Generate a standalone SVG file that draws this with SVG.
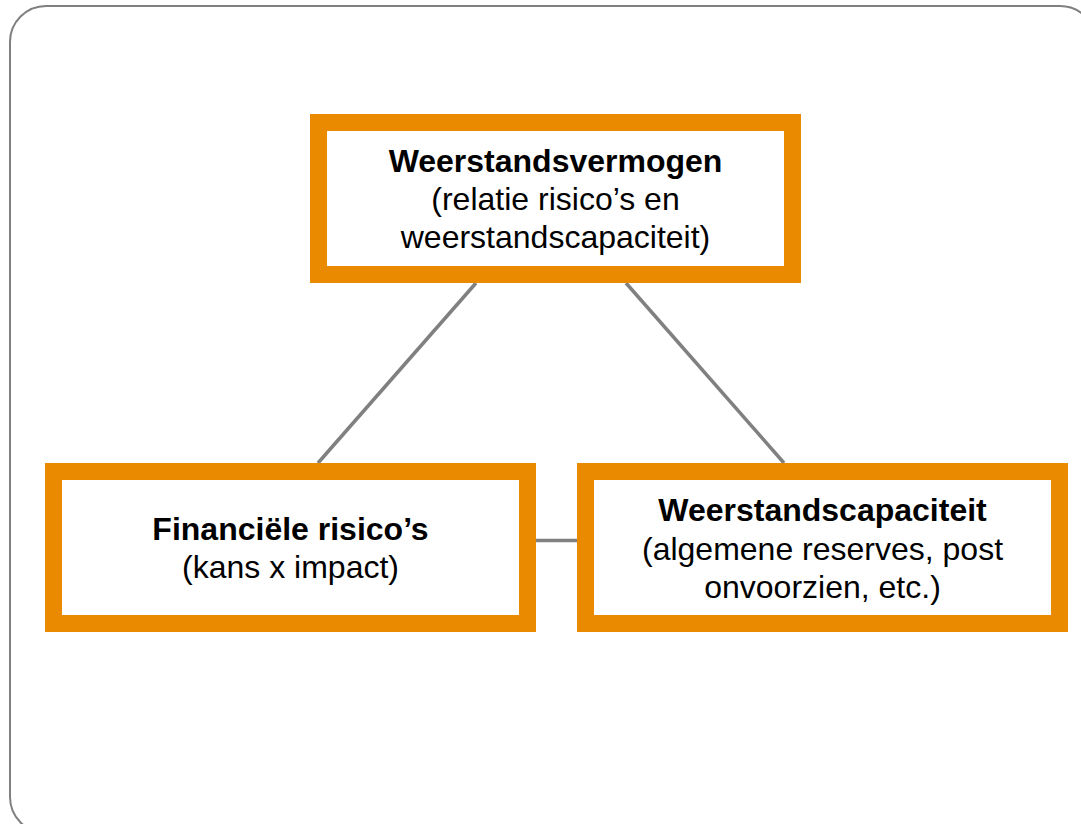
<svg xmlns="http://www.w3.org/2000/svg" width="1081" height="824" viewBox="0 0 1081 824">
<style>
.box{fill:#fff;stroke:#E98A00;stroke-width:17}
.conn{stroke:#808080;stroke-width:3.5;fill:none}
text{font-family:"Liberation Sans",Arial,sans-serif;font-size:32px;fill:#000;text-anchor:middle}
.b{font-weight:bold}
</style>
<rect x="0" y="0" width="1081" height="824" fill="#fff"/>
<rect x="10" y="6" width="1086" height="827" rx="36" ry="36" fill="#fff" stroke="#808080" stroke-width="2"/>
<g id="connectors">
<line class="conn" x1="476" y1="283" x2="318" y2="463"/>
<line class="conn" x1="626" y1="283" x2="784" y2="463"/>
<line class="conn" x1="536" y1="540.5" x2="577" y2="540.5"/>
</g>
<g id="node-weerstandsvermogen">
<rect class="box" x="318.5" y="122.5" width="474" height="152"/>
<text x="555.5" y="172" class="b">Weerstandsvermogen</text>
<text x="555.5" y="210">(relatie risico’s en</text>
<text x="555.5" y="248">weerstandscapaciteit)</text>
</g>
<g id="node-risicos">
<rect class="box" x="53.5" y="471.5" width="474" height="152"/>
<text x="290.5" y="540" class="b">Financiële risico’s</text>
<text x="290.5" y="578">(kans x impact)</text>
</g>
<g id="node-capaciteit">
<rect class="box" x="585.5" y="471.5" width="474" height="152"/>
<text x="822.5" y="521" class="b">Weerstandscapaciteit</text>
<text x="822.5" y="560">(algemene reserves, post</text>
<text x="822.5" y="598">onvoorzien, etc.)</text>
</g>
</svg>
